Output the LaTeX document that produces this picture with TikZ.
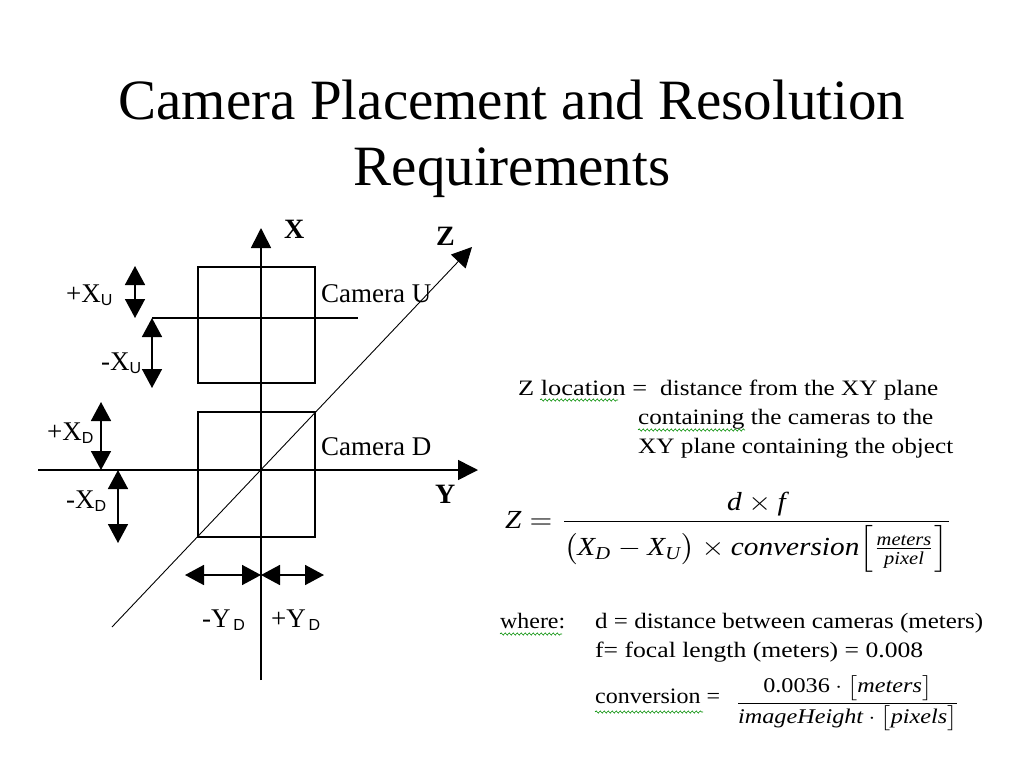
\documentclass[tikz,border=0pt]{standalone}
\usepackage{fontspec}
\usepackage{amsmath}
\usepackage{graphicx}
\setmainfont{Liberation Serif}
\setsansfont{Liberation Sans}
\usetikzlibrary{arrows.meta,decorations.pathmorphing}
\newcommand\fitto[2]{\resizebox{#1}{\height}{#2}}
\newcommand\sublbl[2]{#1\raisebox{-3pt}{\fontsize{16}{16}\selectfont\sffamily #2}}
\begin{document}
\begin{tikzpicture}[x=1pt,y=-1pt,
  axis/.style={line width=1.6pt,-{Triangle[length=20pt,width=20pt]}},
  zaxis/.style={line width=0.9pt,-{Triangle[length=20pt,width=20pt]}},
  dbl/.style={line width=1.6pt,{Triangle[length=19pt,width=20pt]}-{Triangle[length=19pt,width=20pt]}},
  cambox/.style={draw,line width=1.6pt,minimum width=117pt,inner sep=0pt},
  lbl/.style={inner sep=0pt,anchor=base west,font=\fontsize{27}{27}\selectfont},
  axlbl/.style={inner sep=0pt,anchor=base west,font=\fontsize{28}{28}\selectfont\bfseries},
  txt/.style={inner sep=0pt,anchor=base west,font=\fontsize{22}{22}\selectfont},
  wavy/.style={draw=green!55!black,line width=0.6pt,decorate,decoration={snake,amplitude=1.1pt,segment length=4pt}}]
\useasboundingbox (0,0) rectangle (1024,768);
% title
\node[inner sep=0pt,anchor=base,font=\fontsize{57}{66}\selectfont] (title1) at (512,119) {Camera Placement and Resolution};
\node[inner sep=0pt,anchor=base,font=\fontsize{57}{66}\selectfont] (title2) at (512,185) {Requirements};
% axes
\coordinate (xbot) at (261,680);
\coordinate (xtop) at (261,228);
\coordinate (yl) at (38,470);
\coordinate (yr) at (478,470);
\coordinate (zl) at (112,627);
\coordinate (zr) at (472,247);
% camera boxes
\node[cambox,minimum height=116pt] (camU) at (256.5,325) {};
\node[cambox,minimum height=125pt] (camD) at (256.5,474.5) {};
\draw[axis] (xbot) -- (xtop);
\draw[axis] (yl) -- (yr);
\draw[zaxis] (zl) -- (zr);
\coordinate (hl) at (152,318);
\coordinate (hr) at (358,318);
\draw[line width=1.6pt] (hl) -- (hr);
% double arrows
\coordinate (xu1) at (135,266); \coordinate (xu2) at (135,318);
\coordinate (mxu1) at (152,318); \coordinate (mxu2) at (152,388);
\coordinate (xd1) at (101,402); \coordinate (xd2) at (101,470);
\coordinate (mxd1) at (118,470); \coordinate (mxd2) at (118,543);
\coordinate (yd1) at (185,575); \coordinate (yd0) at (261,575); \coordinate (yd2) at (324,575);
\draw[dbl] (xu1) -- (xu2);
\draw[dbl] (mxu1) -- (mxu2);
\draw[dbl] (xd1) -- (xd2);
\draw[dbl] (mxd1) -- (mxd2);
\draw[dbl] (yd1) -- (yd0);
\draw[dbl] (yd0) -- (yd2);
% labels
\node[lbl] (lxu) at (66,302) {\sublbl{+X}{U}};
\node[lbl] (lmxu) at (101,370) {\sublbl{-X}{U}};
\node[lbl] (lxd) at (47,440) {\sublbl{+X}{D}};
\node[lbl] (lmxd) at (66,508) {\sublbl{-X}{D}};
\node[lbl] (lmyd) at (202,627) {\sublbl{-Y}{\,D}};
\node[lbl] (lyd) at (271,627) {\sublbl{+Y}{\,D}};
\node[lbl] (lcu) at (321,302) {Camera U};
\node[lbl] (lcd) at (321,455) {Camera D};
\node[axlbl] (lx) at (284,238) {X};
\node[axlbl] (ly) at (435,503) {Y};
\node[axlbl] (lz) at (436,245) {Z};
% right text
\node[txt] (t1a) at (518,395) {\fitto{129pt}{Z location =}};
\node[txt] (t1b) at (660,395) {\fitto{278pt}{distance from the XY plane}};
\node[txt] (t2) at (638,424) {\fitto{295pt}{containing the cameras to the}};
\node[txt] (t3) at (638,453) {\fitto{315pt}{XY plane containing the object}};
\draw[wavy] (540,400) -- (618,400);
\draw[wavy] (638,430) -- (745,430);
% formula
\node[inner sep=0pt,anchor=north west] (fml) at (505,492) {\resizebox*{447pt}{80pt}{$\textit{Z}=\dfrac{\textit{d}\times\textit{f}}{\bigl(\textit{X}_{\textit{D}}-\textit{X}_{\textit{U}}\bigr)\times\textit{conversion}\!\left[\frac{\textit{meters}}{\textit{pixel}}\right]}$}};
% where block
\node[txt] (wh) at (500,628) {\fitto{65pt}{where:}};
\node[txt] (wd) at (595,628) {\fitto{388pt}{d = distance between cameras (meters)}};
\node[txt] (wf) at (595,657) {\fitto{328pt}{f= focal length (meters) = 0.008}};
\node[txt] (wc) at (595,703) {\fitto{125pt}{conversion =}};
\draw[wavy] (500,634) -- (562,634);
\draw[wavy] (595,712) -- (703,712);
\node[inner sep=0pt,anchor=north west] (cf) at (735,675) {\resizebox*{225pt}{56pt}{$\dfrac{\textrm{0.0036}\cdot\bigl[\textit{meters}\bigr]}{\textit{imageHeight}\cdot\bigl[\textit{pixels}\bigr]}$}};
\end{tikzpicture}
\end{document}
